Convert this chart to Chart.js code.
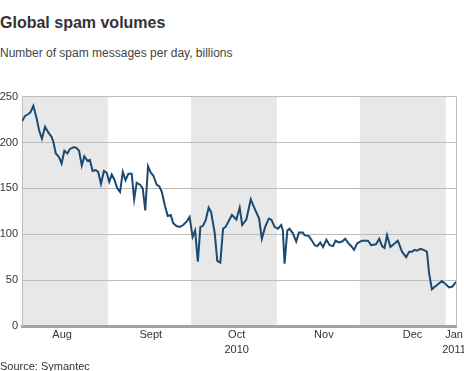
<!DOCTYPE html>
<html>
<head>
<meta charset="utf-8">
<script src="https://cdn.jsdelivr.net/npm/chart.js@4/dist/chart.umd.min.js"></script>
<style>
  body { margin: 0; background: #fff; font-family: "Liberation Sans", Arial, sans-serif; }
  #wrap { position: relative; width: 464px; height: 371px; overflow: hidden; }
  .txt { position: absolute; left: 0; line-height: 1; white-space: nowrap; }
  #title { top: 14.5px; font-size: 16px; font-weight: bold; color: #333; }
  #subtitle { top: 47px; font-size: 12px; color: #444; }
  #source { top: 361px; font-size: 11px; color: #333; }
  #chart { position: absolute; left: 0; top: 86px; }
</style>
</head>
<body>
<div id="wrap">
  <div class="txt" id="title">Global spam volumes</div>
  <div class="txt" id="subtitle">Number of spam messages per day, billions</div>
  <canvas id="chart" width="464" height="285"></canvas>
  <div class="txt" id="source">Source: Symantec</div>
</div>
<script>
// Days counted from 1 Aug 2010
const days = [0, 1.1, 2.3, 3.1, 4.1, 5.3, 6.2, 7.2, 8.3, 9.5,
  10.7, 11.3, 12.2, 13.4, 14.3, 15.3, 16.4, 17.3, 18.8, 19.7,
  20.6, 21.6, 22.5, 23.6, 24.5, 25.5, 26.6, 27.5, 28.5, 29.6,
  30.6, 31.5, 32.4, 33.3, 34.4, 35.4, 36.4, 37.4, 38.4, 39.6,
  40.5, 41.4, 42.6, 43.6, 44.5, 45.5, 46.5, 47.4, 48.6, 49.6,
  50.5, 51.6, 52.6, 53.7, 54.6, 55.8, 57, 58.2, 59.5, 60.5,
  61.6, 62.5, 63.5, 64.4, 65.3, 66.3, 67.4, 68.3, 69.6, 70.5,
  71.6, 72.6, 73.5, 74.4, 75.8, 77.4, 78.6, 79.5, 81, 82.6,
  84, 85.6, 86.6, 87.8, 89.1, 90, 91.2, 92.4, 93.6, 94.2,
  94.8, 95.8, 96.6, 97.8, 99, 100, 101.4, 102, 103.6, 104.7,
  105.7, 106.6, 107.7, 108.7, 109.9, 111.1, 112.3, 113.2, 114.4, 115.6,
  116.7, 117.9, 118.9, 119.9, 121, 122.7, 123.7, 124.9, 126.1, 127.8,
  129, 130, 130.9, 131.8, 133, 134.2, 135.7, 137.2, 138.7, 139.8,
  140.8, 141.8, 142.6, 143.8, 145, 146.2, 147, 148, 149.2, 150.4,
  151.6, 152.8, 154.2, 155.4, 156.7];

// Spam messages per day, billions
const spam = [223, 229, 231, 233, 240, 226, 213, 204, 217, 211,
  206, 201, 188, 184, 177, 191, 188, 193, 195, 194,
  191, 175, 185, 180, 181, 169, 170, 168, 155, 169,
  167, 157, 165, 160, 150, 146, 168, 159, 166, 166,
  138, 156, 154, 150, 126, 174, 167, 164, 154, 152,
  146, 131, 120, 121, 112, 109, 108, 110, 114, 119,
  97, 104, 70, 108, 109, 115, 129, 124, 101, 71,
  69, 106, 108, 113, 121, 116, 129, 110, 116, 138,
  128, 117, 95, 108, 117, 116, 108, 106, 110, 104,
  68, 104, 106, 101, 92, 102, 102, 99, 98, 93,
  88, 87, 91, 86, 94, 88, 87, 93, 91, 92,
  95, 90, 87, 83, 90, 93, 93, 93, 88, 89,
  95, 87, 85, 99, 86, 89, 93, 81, 75, 81,
  81, 83, 82, 84, 83, 81, 57, 40, 43, 46,
  49, 46, 42, 43, 48];

// Shaded months: Aug, Oct, Dec (start day, end day)
const shadedStart = [0, 61, 122];
const shadedEnd = [31, 92, 153];

// x axis labels
const tickDays = [14.5, 46.5, 77.5, 109, 141, 156];
const tickMonths = ["Aug", "Sept", "Oct", "Nov", "Dec", "Jan"];
const tickYears = ["", "", "2010", "", "", "2011"];

const LINE_COLOR = "#1a4a72";
const GRID_COLOR = "#bdbdbd";
const BAND_COLOR = "#e8e8e8";

// Grey month bands behind the grid
const monthBands = {
  id: "monthBands",
  beforeDraw(chart) {
    const { ctx, chartArea, scales } = chart;
    ctx.save();
    ctx.fillStyle = BAND_COLOR;
    shadedStart.forEach((s, i) => {
      const x0 = scales.x.getPixelForValue(s);
      const x1 = scales.x.getPixelForValue(shadedEnd[i]);
      ctx.fillRect(x0, chartArea.top, x1 - x0, chartArea.bottom - chartArea.top);
    });
    ctx.restore();
  },
  afterDraw(chart) {
    // right-hand frame line
    const { ctx, chartArea } = chart;
    ctx.save();
    ctx.strokeStyle = GRID_COLOR;
    ctx.lineWidth = 1;
    ctx.beginPath();
    ctx.moveTo(Math.round(chartArea.right) + 0.5, chartArea.top);
    ctx.lineTo(Math.round(chartArea.right) + 0.5, chartArea.bottom);
    ctx.stroke();
    ctx.restore();
  },
};

const ctx = document.getElementById("chart").getContext("2d");
new Chart(ctx, {
  type: "line",
  data: {
    datasets: [
      {
        data: days.map((d, i) => ({ x: d, y: spam[i] })),
        borderColor: LINE_COLOR,
        borderWidth: 2,
        pointRadius: 0,
        tension: 0,
        fill: false,
      },
    ],
  },
  options: {
    responsive: false,
    animation: false,
    devicePixelRatio: 1,
    layout: { padding: { top: 10, right: 8, left: 0, bottom: 0 } },
    plugins: {
      legend: { display: false },
      tooltip: { enabled: false },
    },
    scales: {
      x: {
        type: "linear",
        min: 0,
        max: 156.7,
        grid: { display: false },
        border: { display: true, color: "#a3a3a3", width: 3 },
        afterBuildTicks: (scale) => {
          scale.ticks = tickDays.map((v) => ({ value: v }));
        },
        afterFit: (scale) => {
          scale.height = 45;
          scale.paddingLeft = 0;
          scale.paddingRight = 0;
        },
        ticks: {
          autoSkip: false,
          maxRotation: 0,
          padding: -7,
          color: "#333",
          font: { family: "'Liberation Sans', Arial, sans-serif", size: 11, lineHeight: 1.4 },
          callback: (value, index) =>
            tickYears[index] ? [tickMonths[index], tickYears[index]] : tickMonths[index],
        },
      },
      y: {
        min: 0,
        max: 250,
        grid: { color: GRID_COLOR, lineWidth: 1, drawTicks: false },
        border: { display: true, color: GRID_COLOR, width: 1 },
        afterFit: (scale) => {
          scale.width = 22;
        },
        ticks: {
          stepSize: 50,
          padding: 4,
          color: "#333",
          font: { family: "'Liberation Sans', Arial, sans-serif", size: 11 },
        },
      },
    },
  },
  plugins: [monthBands],
});
</script>
</body>
</html>
